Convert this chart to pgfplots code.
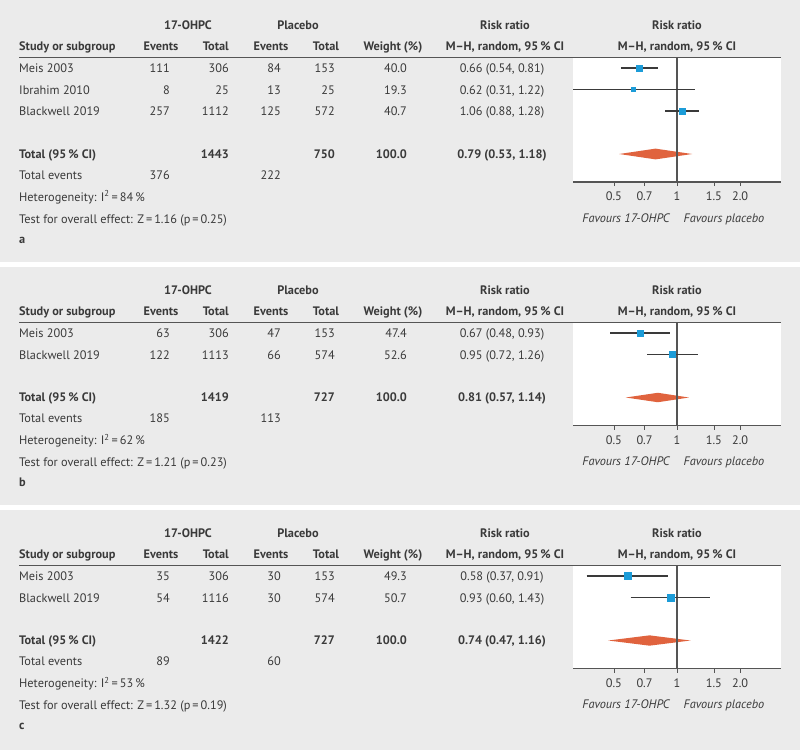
\documentclass[border=0pt]{standalone}
\usepackage{fontspec}
\setmainfont{PT Sans}
\usepackage{pgfplots}
\pgfplotsset{compat=1.18}

\definecolor{bg}{HTML}{EBEBEB}
\definecolor{txt}{HTML}{3A3A3A}
\definecolor{rulec}{HTML}{555555}
\definecolor{sq}{HTML}{1C9CD8}
\definecolor{dia}{HTML}{E0633E}
\newcommand{\fs}{\fontsize{12.3}{14}\selectfont}

\pgfplotsset{
  myforest/.style={
    scale only axis, width=208pt, anchor=south west,
    xmin=0.319, xmax=3.135,
    axis x line=bottom, axis y line=none,
    axis line style={-, draw=rulec, line width=1.2pt},
    axis background/.style={fill=white},
    xtick={0.5,0.7,1,1.5,2}, xticklabels={0.5,0.7,1,1.5,2.0},
    xminorticks=false, ytick=\empty,
    tick align=outside, major tick length=4pt,
    every tick/.style={draw=rulec, line width=0.8pt},
    xticklabel style={font=\fs, text=txt, yshift=-2.5pt},
  },
  myci/.style={draw=txt, line width=1.2pt},
  myvline/.style={draw=rulec, line width=1.5pt},
  mybox/.style={only marks, mark=square*, mark options={fill=sq, draw=sq}},
  mydia/.style={fill=dia, draw=none},
}

% one study row: y, name, events, total, events, total, weight, risk ratio
\newcommand{\trow}[8]{%
  \node[L] at (19,#1) {#2};
  \node[R] at (170,#1) {#3};
  \node[R] at (229,#1) {#4};
  \node[R] at (281,#1) {#5};
  \node[R] at (335,#1) {#6};
  \node[R] at (407,#1) {#7};
  \node[C] at (502,#1) {#8};}

\newcommand{\heads}{%
  \node[C,font=\fs\bfseries] at (188,29) {17-OHPC};
  \node[C,font=\fs\bfseries] at (298,29) {Placebo};
  \node[C,font=\fs\bfseries] at (505,29) {Risk ratio};
  \node[C,font=\fs\bfseries] at (677,29) {Risk ratio};
  \node[L,font=\fs\bfseries] at (19,50) {Study or subgroup};
  \node[C,font=\fs\bfseries] at (161,50) {Events};
  \node[R,font=\fs\bfseries] at (229,50) {Total};
  \node[C,font=\fs\bfseries] at (271,50) {Events};
  \node[C,font=\fs\bfseries] at (326,50) {Total};
  \node[C,font=\fs\bfseries] at (393,50) {Weight (\%)};
  \node[C,font=\fs\bfseries] at (505,50) {M–H, random, 95\,\% CI};
  \node[C,font=\fs\bfseries] at (677,50) {M–H, random, 95\,\% CI};
  \draw[rulec, line width=1.1pt] (19,57.5) -- (781,57.5);}

\newcommand{\favours}[1]{%
  \node[C,font=\fs\itshape] at (626,#1) {Favours 17-OHPC};
  \node[C,font=\fs\itshape] at (724,#1) {Favours placebo};}

\begin{document}
\begin{tikzpicture}
\begin{scope}[x=1pt, y=-1pt,
  every node/.style={font=\fs, text=txt, inner sep=0pt},
  L/.style={anchor=base west}, R/.style={anchor=base east}, C/.style={anchor=base}]
  \fill[white] (0,0) rectangle (800,750);
  \fill[bg] (0,0) rectangle (800,262);
  \fill[bg] (0,267) rectangle (800,505);
  \fill[bg] (0,510) rectangle (800,750);

  % panel a
  \heads
  \trow{72}{Meis 2003}{111}{306}{84}{153}{40.0}{0.66 (0.54, 0.81)}
  \trow{94}{Ibrahim 2010}{8}{25}{13}{25}{19.3}{0.62 (0.31, 1.22)}
  \trow{115}{Blackwell 2019}{257}{1112}{125}{572}{40.7}{1.06 (0.88, 1.28)}
  \begin{scope}[every node/.append style={font=\fs\bfseries}]
  \trow{158}{Total (95\,\% CI)}{}{1443}{}{750}{100.0}{0.79 (0.53, 1.18)}
  \end{scope}
  \node[L] at (19,179) {Total events};
  \node[R] at (170,179) {376};
  \node[R] at (281,179) {222};
  \node[L] at (19,201) {Heterogeneity: I\textsuperscript{2}\,=\,84\,\%};
  \node[L] at (19,223) {Test for overall effect: Z\,=\,1.16 (p\,=\,0.25)};
  \node[L,font=\fs\bfseries] at (19,243) {a};
  \favours{222}

  % panel b
  \begin{scope}[yshift=-265pt]
  \heads
  \trow{72}{Meis 2003}{63}{306}{47}{153}{47.4}{0.67 (0.48, 0.93)}
  \trow{94}{Blackwell 2019}{122}{1113}{66}{574}{52.6}{0.95 (0.72, 1.26)}
  \begin{scope}[every node/.append style={font=\fs\bfseries}]
  \trow{136.5}{Total (95\,\% CI)}{}{1419}{}{727}{100.0}{0.81 (0.57, 1.14)}
  \end{scope}
  \node[L] at (19,157.5) {Total events};
  \node[R] at (170,157.5) {185};
  \node[R] at (281,157.5) {113};
  \node[L] at (19,179.5) {Heterogeneity: I\textsuperscript{2}\,=\,62\,\%};
  \node[L] at (19,201.5) {Test for overall effect: Z\,=\,1.21 (p\,=\,0.23)};
  \node[L,font=\fs\bfseries] at (19,221.5) {b};
  \favours{200.5}
  \end{scope}

  % panel c
  \begin{scope}[yshift=-508pt]
  \heads
  \trow{72}{Meis 2003}{35}{306}{30}{153}{49.3}{0.58 (0.37, 0.91)}
  \trow{94}{Blackwell 2019}{54}{1116}{30}{574}{50.7}{0.93 (0.60, 1.43)}
  \begin{scope}[every node/.append style={font=\fs\bfseries}]
  \trow{136.5}{Total (95\,\% CI)}{}{1422}{}{727}{100.0}{0.74 (0.47, 1.16)}
  \end{scope}
  \node[L] at (19,157.5) {Total events};
  \node[R] at (170,157.5) {89};
  \node[R] at (281,157.5) {60};
  \node[L] at (19,179.5) {Heterogeneity: I\textsuperscript{2}\,=\,53\,\%};
  \node[L] at (19,201.5) {Test for overall effect: Z\,=\,1.32 (p\,=\,0.19)};
  \node[L,font=\fs\bfseries] at (19,221.5) {c};
  \favours{200.5}
  \end{scope}
\end{scope}

% forest plot a
\begin{axis}[xmode=log, myforest, at={(573pt,-182pt)}, height=124.5pt, ymin=-6.302, ymax=-0.512]
  \addplot[mydia] coordinates {(0.53,-5)(0.79,-4.75)(1.18,-5)(0.79,-5.25)(0.53,-5)};
  \addplot[myvline] coordinates {(1,-0.512)(1,-6.302)};
  \addplot[myci] coordinates {(0.54,-1)(0.81,-1)};
  \addplot[myci] coordinates {(0.31,-2)(1.22,-2)};
  \addplot[myci] coordinates {(0.88,-3)(1.28,-3)};
  \addplot[mybox, mark size=3.1pt] coordinates {(0.66,-1)};
  \addplot[mybox, mark size=2pt] coordinates {(0.62,-2)};
  \addplot[mybox, mark size=3.2pt] coordinates {(1.06,-3)};
\end{axis}

% forest plot b
\begin{axis}[xmode=log, myforest, at={(573pt,-425.5pt)}, height=103pt, ymin=-5.302, ymax=-0.512]
  \addplot[mydia] coordinates {(0.57,-4)(0.81,-3.78)(1.14,-4)(0.81,-4.22)(0.57,-4)};
  \addplot[myvline] coordinates {(1,-0.512)(1,-5.302)};
  \addplot[myci] coordinates {(0.48,-1)(0.93,-1)};
  \addplot[myci] coordinates {(0.72,-2)(1.26,-2)};
  \addplot[mybox, mark size=2.9pt] coordinates {(0.67,-1)};
  \addplot[mybox, mark size=3pt] coordinates {(0.95,-2)};
\end{axis}

% forest plot c
\begin{axis}[xmode=log, myforest, at={(573pt,-668.5pt)}, height=103pt, ymin=-5.302, ymax=-0.512]
  \addplot[mydia] coordinates {(0.47,-4)(0.74,-3.76)(1.16,-4)(0.74,-4.24)(0.47,-4)};
  \addplot[myvline] coordinates {(1,-0.512)(1,-5.302)};
  \addplot[myci] coordinates {(0.37,-1)(0.91,-1)};
  \addplot[myci] coordinates {(0.60,-2)(1.43,-2)};
  \addplot[mybox, mark size=3.4pt] coordinates {(0.58,-1)};
  \addplot[mybox, mark size=3.5pt] coordinates {(0.93,-2)};
\end{axis}

\pgfresetboundingbox
\useasboundingbox (0pt,0pt) rectangle (800pt,-750pt);
\end{tikzpicture}
\end{document}
